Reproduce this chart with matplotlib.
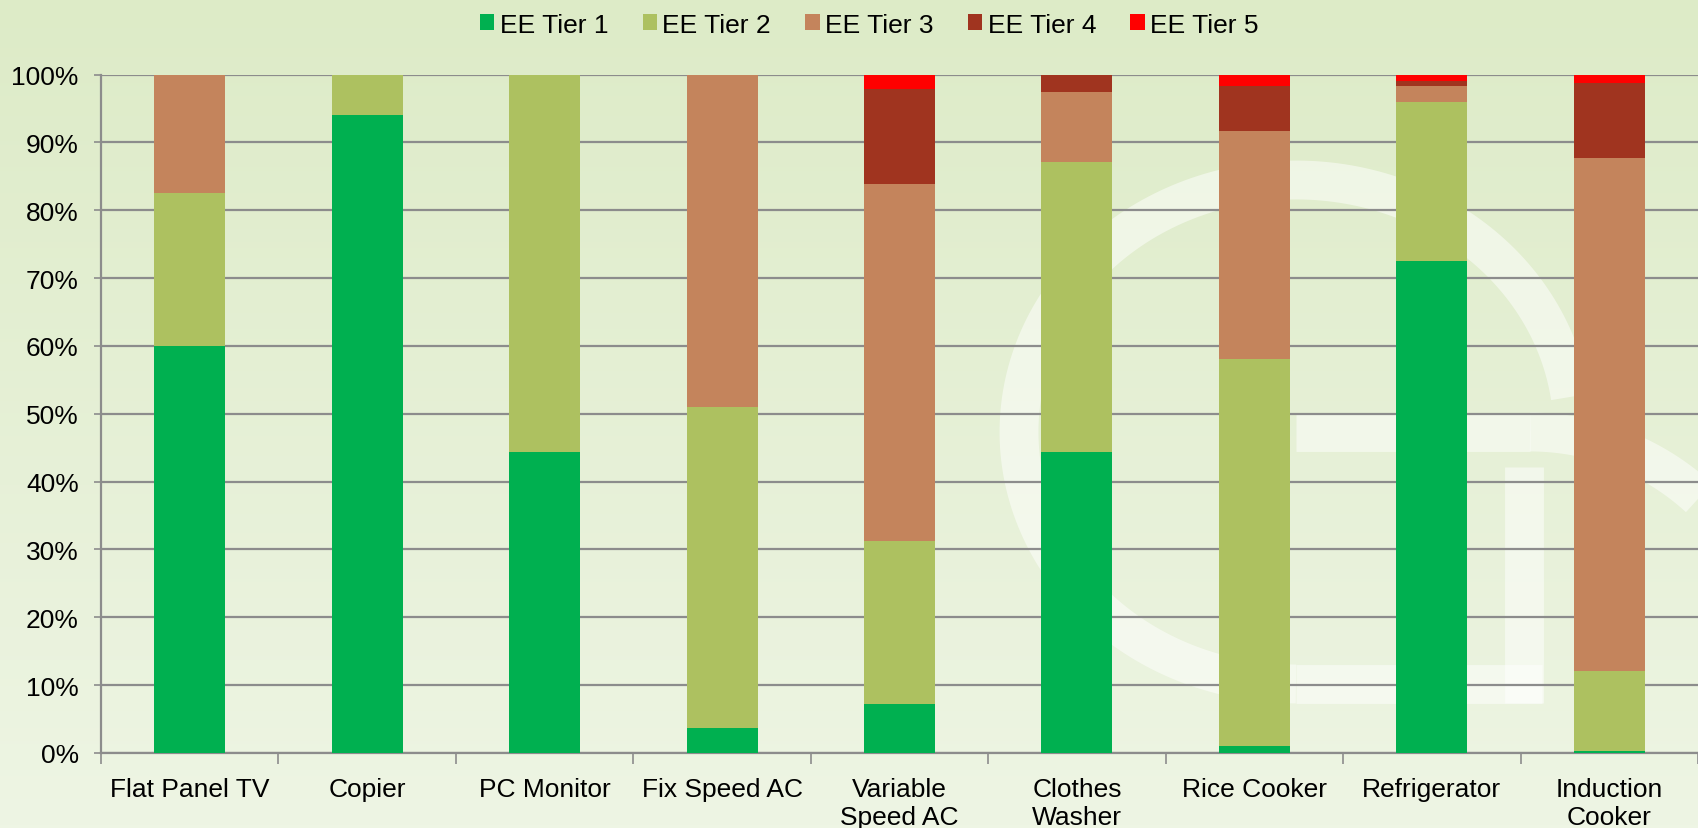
import numpy as np
import matplotlib as mpl
mpl.use('Agg')
import matplotlib.pyplot as plt
from matplotlib.ticker import FixedLocator, PercentFormatter

plt.rcParams['font.family'] = ['Liberation Sans', 'DejaVu Sans']

# shares per product (percent)
categories = ['Flat Panel TV', 'Copier', 'PC Monitor', 'Fix Speed AC',
              'Variable\nSpeed AC', 'Clothes\nWasher', 'Rice Cooker',
              'Refrigerator', 'Induction\nCooker']
tier1 = [60.0, 94.1, 44.3, 3.7, 7.2, 44.4, 1.0, 72.5, 0.3]
tier2 = [22.6, 5.9, 55.7, 47.3, 24.1, 42.7, 57.1, 23.4, 11.8]
tier3 = [17.4, 0.0, 0.0, 49.0, 52.6, 10.3, 33.5, 2.4, 75.6]
tier4 = [0.0, 0.0, 0.0, 0.0, 13.9, 2.6, 6.7, 0.8, 11.1]
tier5 = [0.0, 0.0, 0.0, 0.0, 2.2, 0.0, 1.7, 0.9, 1.2]

series = [tier1, tier2, tier3, tier4, tier5]
labels = ['EE Tier 1', 'EE Tier 2', 'EE Tier 3', 'EE Tier 4', 'EE Tier 5']
colors = ['#00B050', '#ADC160', '#C4845C', '#A0341F', '#FF0000']

W, H = 1698, 829
fig = plt.figure(figsize=(W / 100, H / 100), dpi=100)

# background: soft green gradient plus faint watermark
bg = fig.add_axes([0, 0, 1, 1], zorder=0)
grad = np.linspace(0, 1, 256)[:, None]
cmap = mpl.colors.LinearSegmentedColormap.from_list('bg', ['#DDEBC7', '#EEF5E4'])
bg.imshow(grad, aspect='auto', cmap=cmap, extent=[0, W, H, 0])
wm = dict(color='white', alpha=0.5, lw=28, solid_capstyle='butt')
t = np.radians(np.linspace(8, 270, 200))
bg.plot(1296 + 277 * np.cos(t), 433 - 252 * np.sin(t), **wm)
bg.plot([1296, 1542], [685, 685], **wm)
bg.plot([1524, 1524], [468, 704], **wm)
bg.plot([1296, 1530], [433, 433], **wm)
t2 = np.radians(np.linspace(90, 30, 60))
bg.plot(1530 + 250 * np.cos(t2), 683 - 250 * np.sin(t2), **wm)
bg.set_xlim(0, W)
bg.set_ylim(H, 0)
bg.axis('off')

ax = fig.add_axes([101 / W, 1 - 754 / H, 1 - 101 / W, (754 - 75.5) / H], zorder=1)
ax.set_facecolor('none')

x = np.arange(len(categories))
bottom = np.zeros(len(categories))
handles = []
for vals, lab, col in zip(series, labels, colors):
    b = ax.bar(x, vals, 0.4, bottom=bottom, color=col, label=lab, zorder=3)
    handles.append(b)
    bottom += np.array(vals)

ax.set_ylim(0, 100)
ax.set_xlim(-0.5, -0.5 + (W - 101) / 178.6)
ax.yaxis.set_major_locator(FixedLocator(np.arange(0, 101, 10)))
ax.yaxis.set_major_formatter(PercentFormatter(decimals=0))
ax.grid(axis='y', color='#8C8C8C', lw=1.6, zorder=1)

ax.set_xticks(x)
ax.set_xticklabels(categories, linespacing=1.22)
ax.set_xticks(np.arange(-0.5, len(categories), 1), minor=True)
ax.tick_params(axis='x', which='major', length=0, pad=17, labelsize=19)
ax.tick_params(axis='x', which='minor', length=8, width=1.2, color='#8C8C8C')
ax.tick_params(axis='y', length=5, width=1.2, color='#8C8C8C', pad=11, labelsize=19)

for s in ['top', 'right']:
    ax.spines[s].set_visible(False)
for s in ['left', 'bottom']:
    ax.spines[s].set_color('#8C8C8C')
    ax.spines[s].set_linewidth(1.6)

fig.legend(handles=handles, loc='center', bbox_to_anchor=(0.512, 0.969), ncol=5,
           frameon=False, fontsize=19, handlelength=0.55, handleheight=0.55,
           handletextpad=0.2, columnspacing=1.3)

fig.savefig('out.png', dpi=100)
